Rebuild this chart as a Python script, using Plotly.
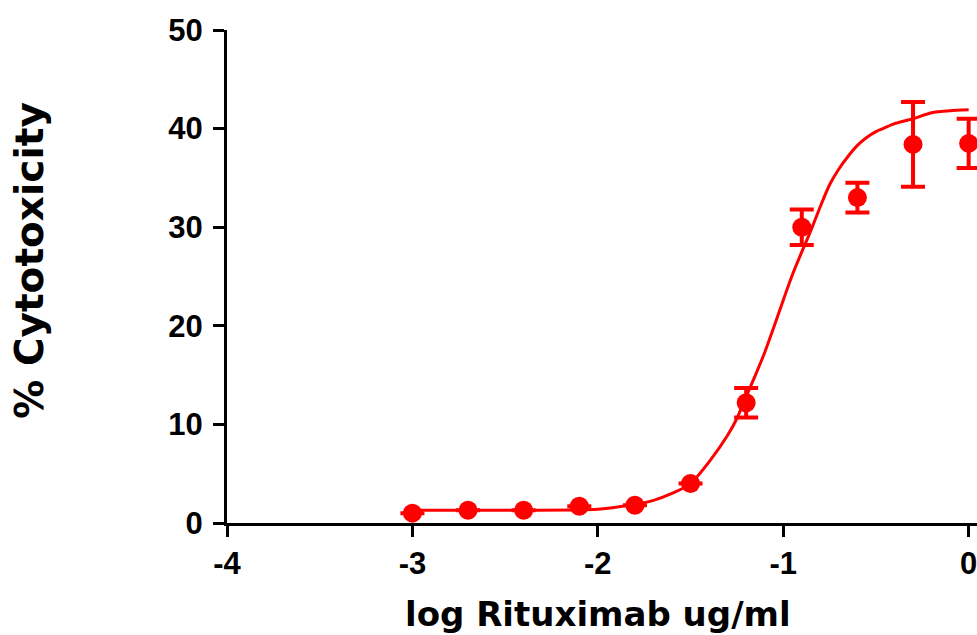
import plotly.graph_objects as go

# Measured points (log concentration vs % cytotoxicity)
log_conc = [-3.0, -2.7, -2.4, -2.1, -1.8, -1.5, -1.2, -0.9, -0.6, -0.3, 0.0]
cytotox = [1.0, 1.3, 1.3, 1.7, 1.8, 4.0, 12.2, 30.0, 33.0, 38.4, 38.5]
cytotox_err = [None, None, None, None, None, None, 1.5, 1.8, 1.5, 4.3, 2.5]

# Fitted curve
fit_x = [-3.0, -2.5, -2.0, -1.8, -1.7, -1.6, -1.5, -1.4, -1.3, -1.25, -1.2, -1.15,
         -1.1, -1.05, -1.0, -0.95, -0.9, -0.85, -0.8, -0.75, -0.7, -0.65, -0.6,
         -0.55, -0.5, -0.45, -0.4, -0.3, -0.2, -0.1, 0.0]
fit_y = [1.3, 1.3, 1.4, 1.9, 2.3, 3.0, 4.0, 6.2, 8.9, 10.6, 12.8, 15.0,
         17.3, 19.9, 22.6, 25.2, 27.5, 29.7, 32.1, 34.3, 35.9, 37.2, 38.3,
         39.1, 39.7, 40.1, 40.5, 41.0, 41.6, 41.8, 41.9]

x_ticks = [-4, -3, -2, -1, 0]
x_tick_labels = ["-4", "-3", "-2", "-1", "0"]
y_ticks = [0, 10, 20, 30, 40, 50]
y_tick_labels = ["0", "10", "20", "30", "40", "50"]

RED = "#FF0000"

fig = go.Figure()
fig.add_trace(go.Scatter(
    x=fit_x, y=fit_y, mode="lines",
    line=dict(color=RED, width=3, shape="spline", smoothing=0.6),
    hoverinfo="skip", cliponaxis=False,
))
fig.add_trace(go.Scatter(
    x=log_conc, y=cytotox, mode="markers",
    marker=dict(color=RED, size=19, symbol="circle"),
    error_y=dict(type="data", array=cytotox_err, visible=True,
                 color=RED, thickness=4, width=12),
    cliponaxis=False,
))

tick_font = dict(family="Liberation Sans, Arial, sans-serif", size=31, color="black", weight="bold")

fig.update_layout(
    width=977, height=635,
    margin=dict(l=227, r=0, t=30, b=112, autoexpand=False),
    paper_bgcolor="white", plot_bgcolor="white",
    showlegend=False,
    xaxis=dict(
        range=[-4, 0.045], tickvals=x_ticks, ticktext=x_tick_labels,
        showline=True, linecolor="black", linewidth=3,
        ticks="outside", ticklen=11, tickwidth=3, tickcolor="black",
        showgrid=False, zeroline=False, tickfont=tick_font, automargin=False,
        ticklabeloverflow="allow",
    ),
    yaxis=dict(
        range=[0, 50], tickvals=y_ticks, ticktext=y_tick_labels,
        showline=True, linecolor="black", linewidth=3,
        ticks="outside", ticklen=11, tickwidth=3, tickcolor="black",
        showgrid=False, zeroline=False, tickfont=tick_font, automargin=False,
        ticklabelstandoff=4, ticklabeloverflow="allow",
    ),
    annotations=[
        dict(text="log Rituximab ug/ml", xref="x", yref="paper", x=-2, y=-0.185,
             xanchor="center", yanchor="middle", showarrow=False,
             font=dict(family="DejaVu Sans, sans-serif", size=34, color="black", weight="bold")),
        dict(text="% Cytotoxicity", xref="paper", yref="paper", x=-0.263, y=0.5335,
             xanchor="center", yanchor="middle", textangle=-90, showarrow=False,
             font=dict(family="DejaVu Sans, sans-serif", size=39, color="black", weight="bold")),
    ],
)

# remove the default 8px page margin so the figure fills the window exactly
fig.write_html(
    "out.html",
    config={"displayModeBar": False},
    post_script="document.body.style.margin='0';document.body.style.overflow='hidden';",
)
